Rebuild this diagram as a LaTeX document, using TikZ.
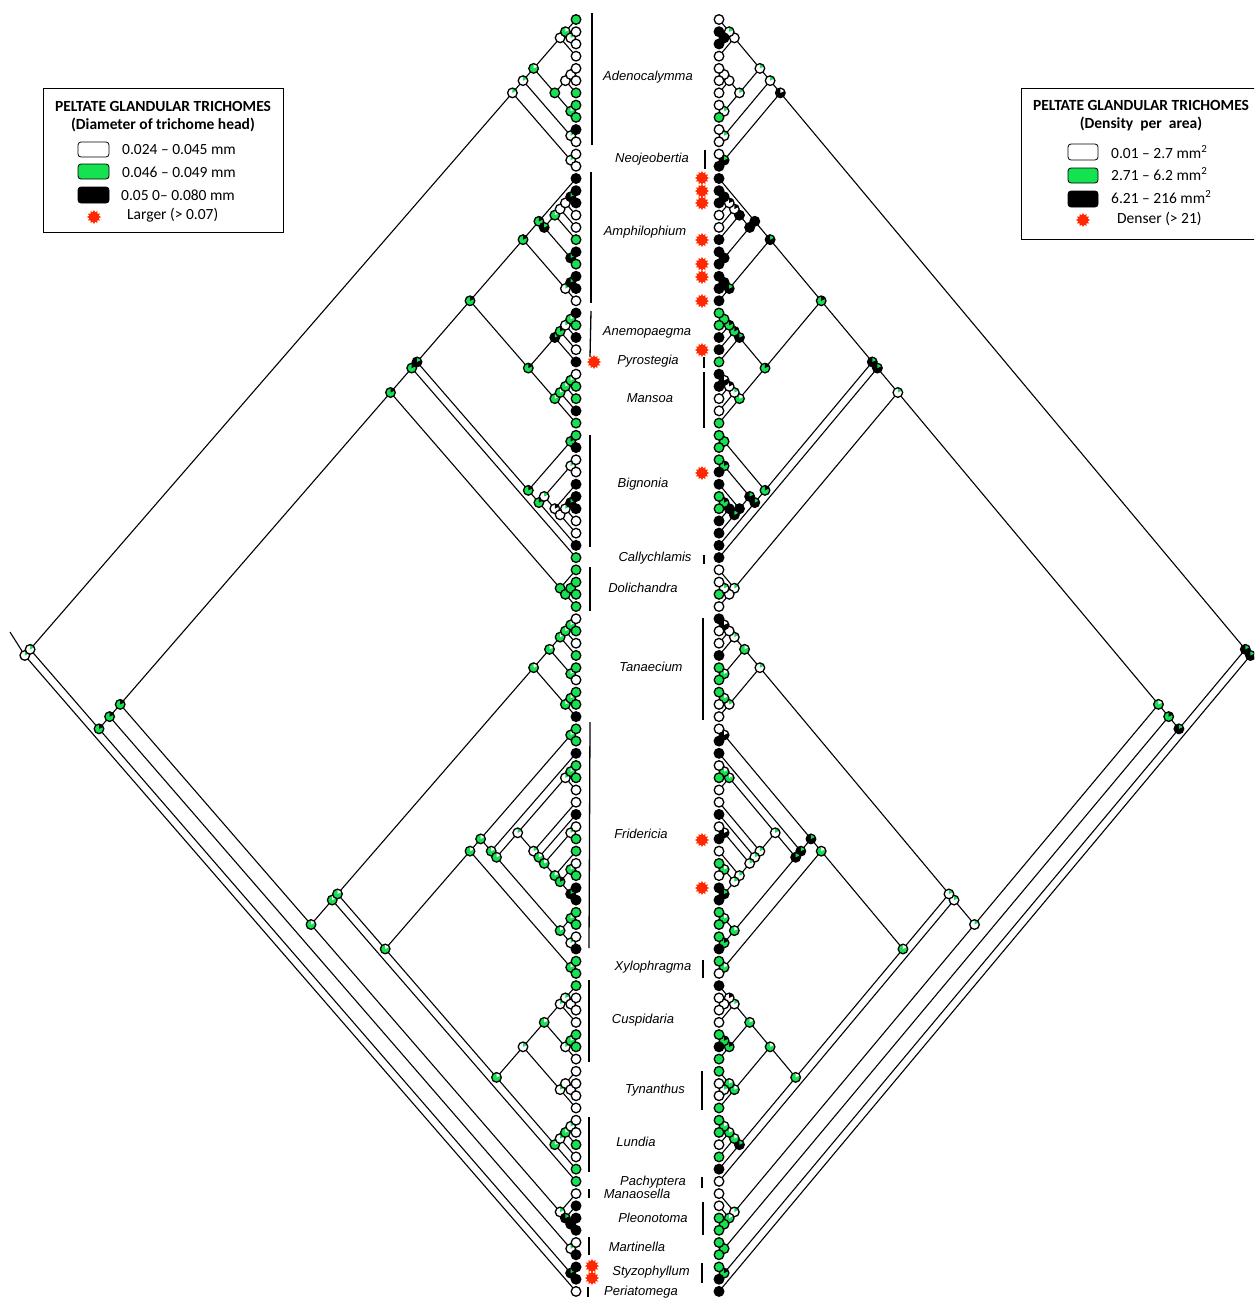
\documentclass[tikz,border=0pt]{standalone}
\usepackage{fontspec}
\setmainfont{Liberation Sans}
\newfontfamily\legfont{Carlito}
\usetikzlibrary{shapes.geometric}
\definecolor{tW}{RGB}{255,255,255}
\definecolor{tG}{RGB}{20,226,80}
\definecolor{tB}{RGB}{0,0,0}
\definecolor{starred}{RGB}{255,40,0}
\tikzset{
  edge/.style={line width=1.1pt,black},
  genusbar/.style={line width=1.3pt,black},
  redstar/.style={star,star points=12,star point ratio=1.45,minimum size=14pt,inner sep=0pt,fill=starred,draw=none},
  genus/.style={font=\fontsize{13}{15}\selectfont\itshape,inner sep=0pt},
  legtitle/.style={font=\legfont\bfseries\fontsize{15.5}{18}\selectfont,inner sep=0pt},
  legtext/.style={font=\legfont\fontsize{15.5}{18}\selectfont,inner sep=0pt,anchor=west},
  swatch/.style={draw=black,line width=0.8pt,rounded corners=3pt},
  legbox/.style={draw=black,line width=0.8pt},
}
\newcommand\piedot[3]{%
  \fill[fill=t#2] (#1) circle (4.8pt);
  \fill[fill=t#3] (#1) -- ++(90:4.8pt) arc (90:25:4.8pt) -- cycle;
  \draw[line width=1.3pt] (#1) circle (4.8pt);
}
\newcommand\tipdot[2]{%
  \fill[fill=t#2] (#1) circle (4.8pt);
  \draw[line width=1.3pt] (#1) circle (4.8pt);
}
\def\cladelist{%
0/104/n0x103/t104/W/G/B/G,
0/103/n0x12/n13x103/W/G/B/G,
0/12/n0x10/n11x12/W/G/B/W,
0/10/n0x8/n9x10/W/G/W/G,
0/8/n0x3/n4x8/G/W/W/G,
0/3/n0x2/t3/W/W/W/W,
0/2/t0/n1x2/G/W/W/G,
1/2/t1/t2/W/G/B/B,
4/8/n4x6/n7x8/G/G/W/G,
4/6/n4x5/t6/W/W/W/W,
4/5/t4/t5/W/W/W/W,
7/8/t7/t8/G/W/W/G,
9/10/t9/t10/W/G/W/G,
11/12/t11/t12/W/G/B/G,
13/103/n13x101/n102x103/G/B/B/G,
13/101/n13x99/n100x101/G/B/G/B,
102/103/t102/t103/B/G/G/B,
100/101/t100/t101/W/G/G/G,
13/99/n13x48/n49x99/G/B/G/W,
13/48/n13x44/n45x48/G/B/W/G,
13/44/n13x43/t44/G/B/B/G,
13/43/n13x33/n34x43/B/G/B/G,
13/33/n13x23/n24x33/G/B/G/B,
13/23/n13x20/n21x23/G/B/B/G,
13/20/t13/n14x20/G/B/B/B,
14/20/n14x18/n19x20/B/G/B/B,
14/18/n14x17/t18/G/W/B/B,
14/17/n14x16/t17/W/W/W/B,
14/16/n14x15/t16/W/W/W/B,
14/15/t14/t15/B/G/B/B,
19/20/t19/t20/B/G/B/B,
21/23/n21x22/t23/W/G/B/G,
21/22/t21/t22/B/G/B/B,
24/33/n24x28/n29x33/G/B/G/B,
24/28/n24x27/t28/B/G/B/G,
24/27/n24x26/t27/G/B/G/B,
24/26/n24x25/t26/W/G/G/B,
24/25/t24/t25/G/W/G/G,
29/33/n29x32/t33/G/W/G/W,
29/32/n29x31/t32/G/W/W/G,
29/31/n29x30/t31/G/W/W/B,
29/30/t29/t30/G/W/B/W,
34/43/n34x35/n36x43/G/B/G/B,
34/35/t34/t35/G/B/G/G,
36/43/n36x42/t43/G/B/B/G,
36/42/n36x37/n38x42/W/G/B/G,
36/37/t36/t37/W/G/G/B,
38/42/t38/n39x42/W/B/B/B,
39/42/n39x41/t42/W/W/B/G,
39/41/n39x40/t41/W/G/B/B,
39/40/t39/t40/B/G/G/B,
45/48/t45/n46x48/G/G/W/G,
46/48/n46x47/t48/G/G/W/W,
46/47/t46/t47/G/G/W/G,
49/99/n49x95/n96x99/G/W/W/G,
49/95/n49x94/t95/G/W/W/G,
49/94/n49x57/n58x94/G/W/W/G,
96/99/t96/n97x99/W/G/W/G,
97/99/t97/n98x99/B/G/G/W,
98/99/t98/t99/B/B/G/G,
49/57/n49x54/n55x57/G/W/W/G,
49/54/n49x52/n53x54/G/W/G/W,
49/52/n49x51/t52/G/W/W/G,
49/51/n49x50/t51/G/W/W/W,
49/50/t49/t50/G/W/B/W,
53/54/t53/t54/G/W/G/W,
55/57/n55x56/t57/G/W/W/G,
55/56/t55/t56/G/W/G/W,
58/94/n58x78/n79x94/G/W/G/W,
58/78/n58x76/n77x78/G/W/G/W,
58/76/n58x59/n60x76/G/W/B/G,
58/59/t58/t59/G/W/B/W,
60/76/t60/n61x76/G/W/B/G,
61/76/n61x72/n73x76/G/W/B/G,
61/72/n61x63/n64x72/W/G/W/G,
61/63/n61x62/t63/W/G/G/W,
61/62/t61/t62/G/W/G/W,
64/72/t64/n65x72/W/G/W/G,
65/72/t65/n66x72/G/W/W/G,
66/72/n66x67/n68x72/G/W/W/G,
66/67/t66/t67/W/G/B/W,
68/72/t68/n69x72/G/W/W/G,
69/72/n69x70/n71x72/G/B/W/G,
69/70/t69/t70/G/W/G/W,
71/72/t71/t72/B/G/B/G,
73/76/n73x74/n75x76/G/W/G/W,
73/74/t73/t74/G/W/G/W,
75/76/t75/t76/W/G/G/B,
77/78/t77/t78/G/W/G/W,
79/94/n79x89/n90x94/G/W/G/W,
79/89/n79x85/n86x89/W/G/G/W,
79/85/n79x82/n83x85/G/W/G/W,
79/82/n79x81/t82/W/G/W/G,
79/81/t79/n80x81/W/G/W/B,
80/81/t80/t81/W/W/W/W,
83/85/n83x84/t85/W/G/G/B,
83/84/t83/t84/G/W/G/B,
86/89/n86x88/t89/W/G/G/W,
86/88/t86/n87x88/W/W/G/W,
87/88/t87/t88/W/W/W/G,
90/94/n90x93/t94/G/W/B/G,
90/93/n90x92/t93/W/G/G/W,
90/92/n90x91/t92/G/W/G/W,
90/91/t90/t91/W/G/G/W}
\def\lefttips{G,W,W,W,W,W,G,G,G,B,W,W,W,B,B,B,W,W,G,B,G,B,B,W,B,G,B,W,B,W,G,G,B,G,G,B,W,W,B,B,B,W,W,B,G,G,G,G,G,W,G,W,G,G,W,G,G,B,G,G,B,G,G,W,W,B,W,G,G,W,G,B,B,G,G,W,B,G,G,G,W,W,W,G,G,W,W,W,W,W,W,W,G,W,G,G,W,B,B,B,W,B,B,B,W}
\def\righttips{W,B,B,W,W,W,W,W,G,W,W,W,B,B,B,B,W,W,B,B,B,B,B,B,G,G,B,B,G,B,B,W,W,G,G,G,G,B,B,G,G,B,B,B,B,W,W,G,W,B,W,W,B,G,G,G,W,W,W,B,B,W,G,W,W,B,W,B,W,G,W,B,B,G,G,G,B,G,W,B,W,W,W,G,B,G,G,W,W,G,G,G,W,G,B,W,W,W,G,G,G,G,G,B,B}
\begin{document}
\begin{tikzpicture}[x=1pt,y=-1pt]
\useasboundingbox (0,0) rectangle (1254,1301);
\clip (0,0) rectangle (1254,1301);
\fill[white] (0,0) rectangle (1254,1301);
% ---------- coordinates ----------
\foreach \c [count=\n from 0] in \lefttips
  \coordinate (Lt\n) at (576,{19.5+12.23*\n});
\foreach \c [count=\n from 0] in \righttips
  \coordinate (Rt\n) at (719,{19.5+12.23*\n});
\foreach \i/\j/\a/\b/\qa/\qb/\qc/\qd in \cladelist {
  \coordinate (Ln\i x\j) at ({576-5.3*(\j-\i)},{19.5+12.23*(\i+\j)/2});
  \coordinate (Rn\i x\j) at ({719+5.11*(\j-\i)},{19.5+12.23*(\i+\j)/2});
}
% ---------- root stubs ----------
\coordinate (Lstub) at (10,632);
\coordinate (Rstub) at (1262,666);
\draw[edge] (Ln0x104) -- (Lstub);
\draw[edge] (Rn0x104) -- (Rstub);
% ---------- branches ----------
\foreach \i/\j/\a/\b/\qa/\qb/\qc/\qd in \cladelist {
  \draw[edge] (Ln\i x\j) -- (L\a) (Ln\i x\j) -- (L\b);
  \draw[edge] (Rn\i x\j) -- (R\a) (Rn\i x\j) -- (R\b);
}
% ---------- internal pies ----------
\foreach \i/\j/\a/\b/\qa/\qb/\qc/\qd in \cladelist {
  \piedot{Ln\i x\j}{\qa}{\qb}
  \piedot{Rn\i x\j}{\qc}{\qd}
}
% ---------- tips ----------
\foreach \c [count=\n from 0] in \lefttips { \tipdot{Lt\n}{\c} }
\foreach \c [count=\n from 0] in \righttips { \tipdot{Rt\n}{\c} }
% ---------- genus bars ----------
\draw[genusbar] (592,13) -- (592,145);
\draw[genusbar] (591,172) -- (591,303);
\draw[genusbar] (591,311) -- (590,357);
\draw[genusbar] (590,435) -- (590,547);
\draw[genusbar] (590,567) -- (590,611);
\draw[genusbar] (590,722) -- (589,948);
\draw[genusbar] (589,980) -- (589,1062);
\draw[genusbar] (589,1117) -- (589,1172);
\draw[genusbar] (589,1189) -- (589,1198);
\draw[genusbar] (589,1237) -- (589,1255);
\draw[genusbar] (588,1287) -- (588,1297);
\draw[genusbar] (705,150) -- (705,169);
\draw[genusbar] (704,357) -- (704,368);
\draw[genusbar] (704,372) -- (704,428);
\draw[genusbar] (704,555) -- (704,564);
\draw[genusbar] (703,618) -- (703,720);
\draw[genusbar] (703,960) -- (703,978);
\draw[genusbar] (702,1071) -- (702,1110);
\draw[genusbar] (702,1177) -- (702,1188);
\draw[genusbar] (703,1202) -- (703,1235);
\draw[genusbar] (702,1263) -- (702,1283);
% ---------- genus labels ----------
\node[genus] (gAde) at (648,77) {Adenocalymma};
\node[genus] (gNeo) at (652,159) {Neojeobertia};
\node[genus] (gAmp) at (645,232) {Amphilophium};
\node[genus] (gAne) at (647,332) {Anemopaegma};
\node[genus] (gPyr) at (648,361) {Pyrostegia};
\node[genus] (gMan) at (650,398) {Mansoa};
\node[genus] (gBig) at (643,484) {Bignonia};
\node[genus] (gCal) at (655,558) {Callychlamis};
\node[genus] (gDol) at (643,588) {Dolichandra};
\node[genus] (gTan) at (651,667) {Tanaecium};
\node[genus] (gFri) at (641,834) {Fridericia};
\node[genus] (gXyl) at (653,967) {Xylophragma};
\node[genus] (gCus) at (643,1020) {Cuspidaria};
\node[genus] (gTyn) at (655,1090) {Tynanthus};
\node[genus] (gLun) at (636,1142) {Lundia};
\node[genus] (gPac) at (653,1182) {Pachyptera};
\node[genus] (gMns) at (637,1194) {Manaosella};
\node[genus] (gPle) at (653,1218) {Pleonotoma};
\node[genus] (gMar) at (637,1247) {Martinella};
\node[genus] (gSty) at (651,1272) {Styzophyllum};
\node[genus] (gPer) at (641,1292) {Periatomega};
% ---------- red stars ----------
\node[redstar] (sL1) at (594,362) {};
\node[redstar] (sL2) at (592,1266) {};
\node[redstar] (sL3) at (592,1278) {};
\foreach \yy [count=\k] in {178,191,203,240,264,277,301,350,473,840,888}
  \node[redstar] (sR\k) at (702,\yy) {};
% ---------- left legend ----------
\draw[legbox] (43,88) rectangle (283,232);
\node[legtitle] (lt1) at (163,106) {PELTATE GLANDULAR TRICHOMES};
\node[legtitle] (lt2) at (163,125) {(Diameter of trichome head)};
\draw[swatch,fill=tW] (78,142) rectangle (109,157);
\draw[swatch,fill=tG] (78,164) rectangle (109,179);
\draw[swatch,fill=tB] (78,187) rectangle (109,203);
\node[legtext] (la1) at (122,150) {0.024 – 0.045 mm};
\node[legtext] (la2) at (122,172) {0.046 – 0.049 mm};
\node[legtext] (la3) at (121,195) {0.05 0– 0.080 mm};
\node[redstar] (la4s) at (94,217) {};
\node[legtext] (la4) at (127,215) {Larger (> 0.07)};
% ---------- right legend ----------
\draw[legbox] (1021,88) rectangle (1270,239);
\node[legtitle] (rt1) at (1141,105) {PELTATE GLANDULAR TRICHOMES};
\node[legtitle] (rt2) at (1141,124) {(Density\ \ per\ \ area)};
\draw[swatch,fill=tW] (1068,144) rectangle (1098,160);
\draw[swatch,fill=tG] (1068,168) rectangle (1098,183);
\draw[swatch,fill=tB] (1068,191) rectangle (1098,207);
\node[legtext] (ra1) at (1111,152) {0.01 – 2.7 mm\textsuperscript{2}};
\node[legtext] (ra2) at (1111,174) {2.71 – 6.2 mm\textsuperscript{2}};
\node[legtext] (ra3) at (1111,197) {6.21 – 216 mm\textsuperscript{2}};
\node[redstar] (ra4s) at (1083,220) {};
\node[legtext] (ra4) at (1117,219) {Denser (> 21)};
\end{tikzpicture}
\end{document}
